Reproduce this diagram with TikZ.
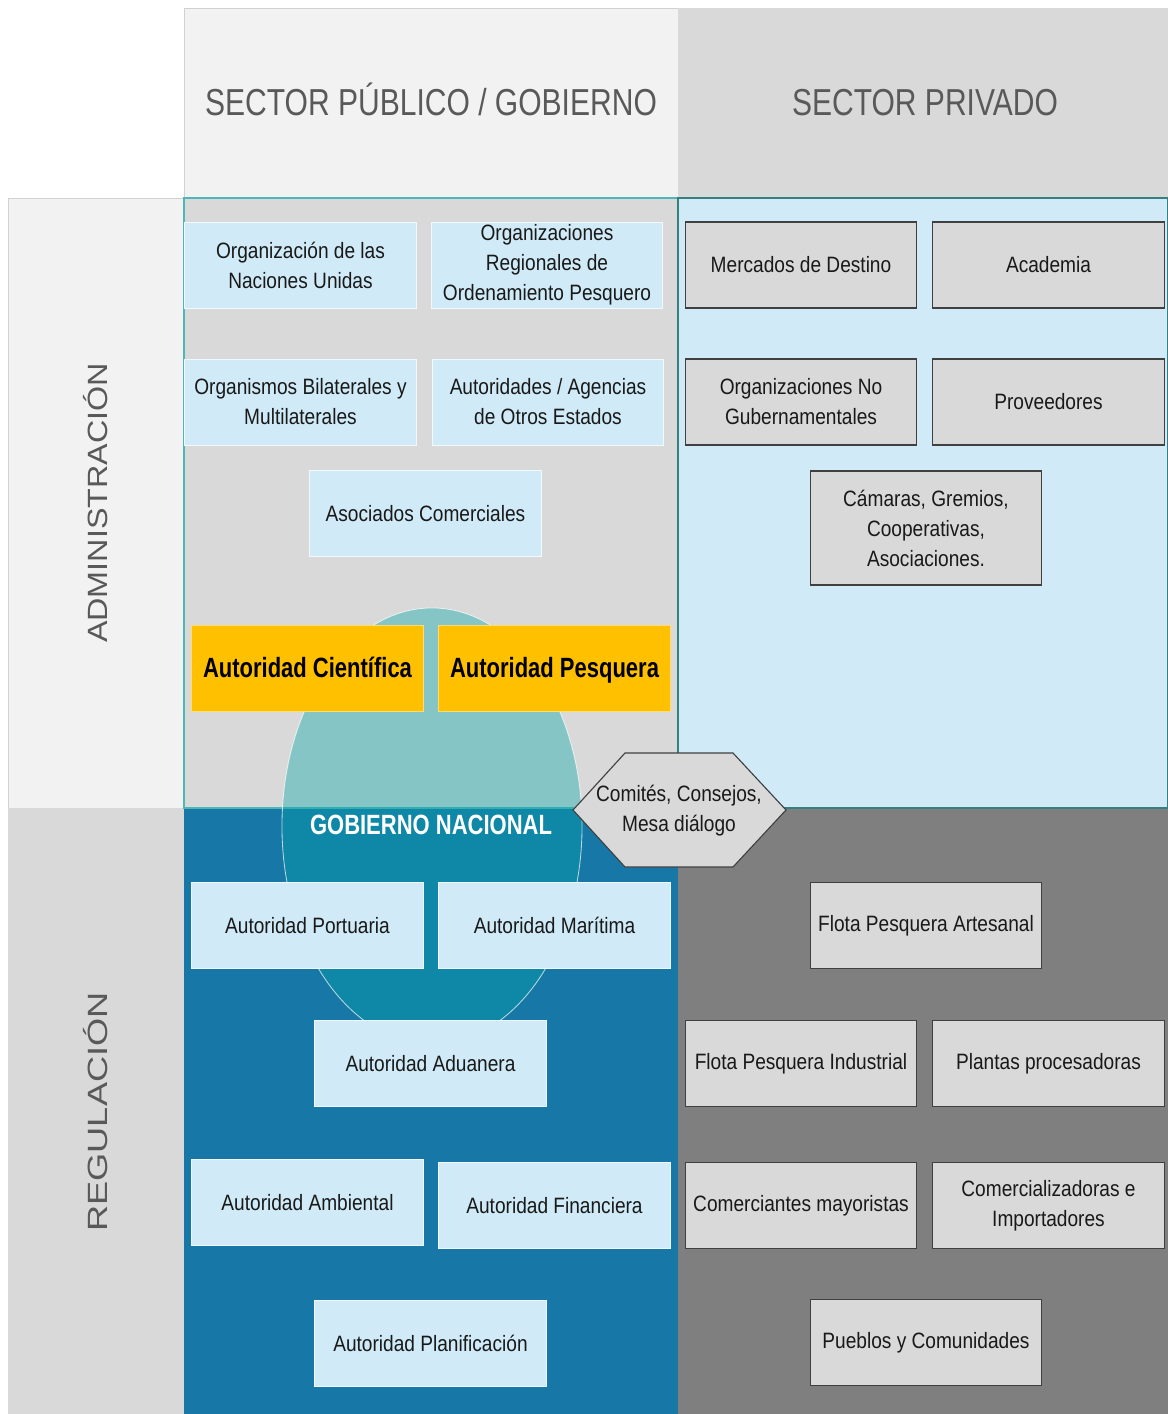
\documentclass[tikz,border=0pt]{standalone}
\usepackage{fontspec}
\setmainfont{Liberation Sans}
\newfontfamily\condfont[FakeStretch=0.86,BoldFeatures={FakeStretch=0.79}]{Liberation Sans}
\newfontfamily\headfont[FakeStretch=0.8]{Liberation Sans}
\newfontfamily\sidefont[FakeStretch=1.16]{Liberation Sans}
\newfontfamily\sidewfont[FakeStretch=1.3]{Liberation Sans}
\usetikzlibrary{positioning}

\definecolor{paleg}{HTML}{F2F2F2}
\definecolor{midg}{HTML}{D9D9D9}
\definecolor{darkg}{HTML}{7F7F7F}
\definecolor{lblue}{HTML}{D0EBF7}
\definecolor{dblue}{HTML}{1777A7}
\definecolor{gold}{HTML}{FFC000}
\definecolor{tealc}{RGB}{0,166,166}
\definecolor{tealline}{HTML}{4DB6B6}
\definecolor{txtg}{HTML}{595959}

\tikzset{
  box/.style={minimum width=5.78cm, minimum height=2.15cm, inner sep=1pt, align=center,
    text=black!90, font=\condfont\fontsize{15.8}{21.3}\selectfont},
  pubbox/.style={box, fill=lblue, draw=white!70!lblue, line width=0.6pt},
  privbox/.style={box, fill=midg, draw=black!75, line width=0.8pt},
  goldbox/.style={box, fill=gold, draw=gold!55!white, line width=0.6pt, text=black,
    text height=16pt, text depth=1.8pt,
    font=\condfont\bfseries\fontsize{19.8}{24}\selectfont},
  head/.style={text=txtg, anchor=base, font=\headfont\fontsize{26.7}{30}\selectfont},
  side/.style={text=txtg, rotate=90, font=\sidefont\fontsize{19.8}{24}\selectfont},
  hexa/.style={fill=midg, draw=black!75, line width=0.8pt},
  hextext/.style={align=center, inner sep=0pt, text=black!90,
    font=\condfont\fontsize{15.8}{21.3}\selectfont},
}

\begin{document}
\begin{tikzpicture}[x=0.025cm, y=-0.025cm]
\useasboundingbox (0,0) rectangle (1168,1414);
\fill[white] (0,0) rectangle (1168,1414);

% column and row bands
\filldraw[fill=paleg, draw=black!18] (184,8) rectangle (678,198);
\fill[midg] (678,8) rectangle (1168,198);
\filldraw[fill=paleg, draw=black!18] (8,198) rectangle (184,808);
\fill[midg] (8,808) rectangle (184,1414);
\fill[midg] (184,198) rectangle (678,808);
\fill[lblue] (678,198) rectangle (1168,808);
\fill[dblue] (184,808) rectangle (678,1414);
\fill[darkg] (678,808) rectangle (1168,1414);
\draw[tealline, line width=0.8pt] (184,198) rectangle (678,808);
\draw[tealline!70!black, line width=0.8pt] (678,198) rectangle (1168,808);

% national government ellipse
\filldraw[fill=tealc, fill opacity=0.38, draw=white, draw opacity=0.7, line width=0.6pt]
  (432,826) ellipse [x radius=3.75cm, y radius=5.45cm];

\node[head] (pubhead) at (431,115) {SECTOR PÚBLICO / GOBIERNO};
\node[head] (privhead) at (925,115) {SECTOR PRIVADO};
\node[side] (admin) at (96,503) {ADMINISTRACIÓN};
\node[side, font=\sidewfont\fontsize{19.8}{24}\selectfont] (regul) at (96,1112) {REGULACIÓN};

% public sector
\node[pubbox] (onu) at (300.5,265) {Organización de las\\Naciones Unidas};
\node[pubbox] (orop) at (547,265) {Organizaciones\\Regionales de\\Ordenamiento Pesquero};
\node[pubbox] (obm) at (300.5,402) {Organismos Bilaterales y\\Multilaterales};
\node[pubbox] (aoe) at (548,402) {Autoridades / Agencias\\de Otros Estados};
\node[pubbox] (asoc) at (425.5,513.5) {Asociados Comerciales};
\node[goldbox] (cient) at (307.5,668) {Autoridad Científica};
\node[goldbox] (pesq) at (554.5,668) {Autoridad Pesquera};
\node[text=white, font=\condfont\bfseries\fontsize{19.8}{24}\selectfont] (gob) at (431,825) {GOBIERNO NACIONAL};
\node[pubbox] (port) at (307.5,925.5) {Autoridad Portuaria};
\node[pubbox] (mari) at (554.5,925.5) {Autoridad Marítima};
\node[pubbox] (adua) at (430.5,1063.5) {Autoridad Aduanera};
\node[pubbox] (ambi) at (307.5,1202.5) {Autoridad Ambiental};
\node[pubbox] (fina) at (554.5,1205.5) {Autoridad Financiera};
\node[pubbox] (plan) at (430.5,1343.5) {Autoridad Planificación};

% private sector
\node[privbox] (merc) at (801,265) {Mercados de Destino};
\node[privbox] (acad) at (1048.5,265) {Academia};
\node[privbox] (ong) at (801,402) {Organizaciones No\\Gubernamentales};
\node[privbox] (prov) at (1048.5,402) {Proveedores};
\node[privbox, minimum height=2.85cm] (cama) at (926,528) {Cámaras, Gremios,\\Cooperativas,\\Asociaciones.};
\node[privbox] (artes) at (926,925.5) {Flota Pesquera Artesanal};
\node[privbox] (indus) at (801,1063.5) {Flota Pesquera Industrial};
\node[privbox] (plant) at (1048.5,1063.5) {Plantas procesadoras};
\node[privbox] (mayor) at (801,1205.5) {Comerciantes mayoristas};
\node[privbox] (comer) at (1048.5,1205.5) {Comercializadoras e\\Importadores};
\node[privbox] (pueb) at (926,1342.5) {Pueblos y Comunidades};

% dialogue hexagon
\draw[hexa] (573,810) -- (625,753) -- (733,753) -- (786,810) -- (733,867) -- (625,867) -- cycle;
\node[hextext] (mesa) at (679,811) {Comités, Consejos,\\Mesa diálogo};
\end{tikzpicture}
\end{document}
